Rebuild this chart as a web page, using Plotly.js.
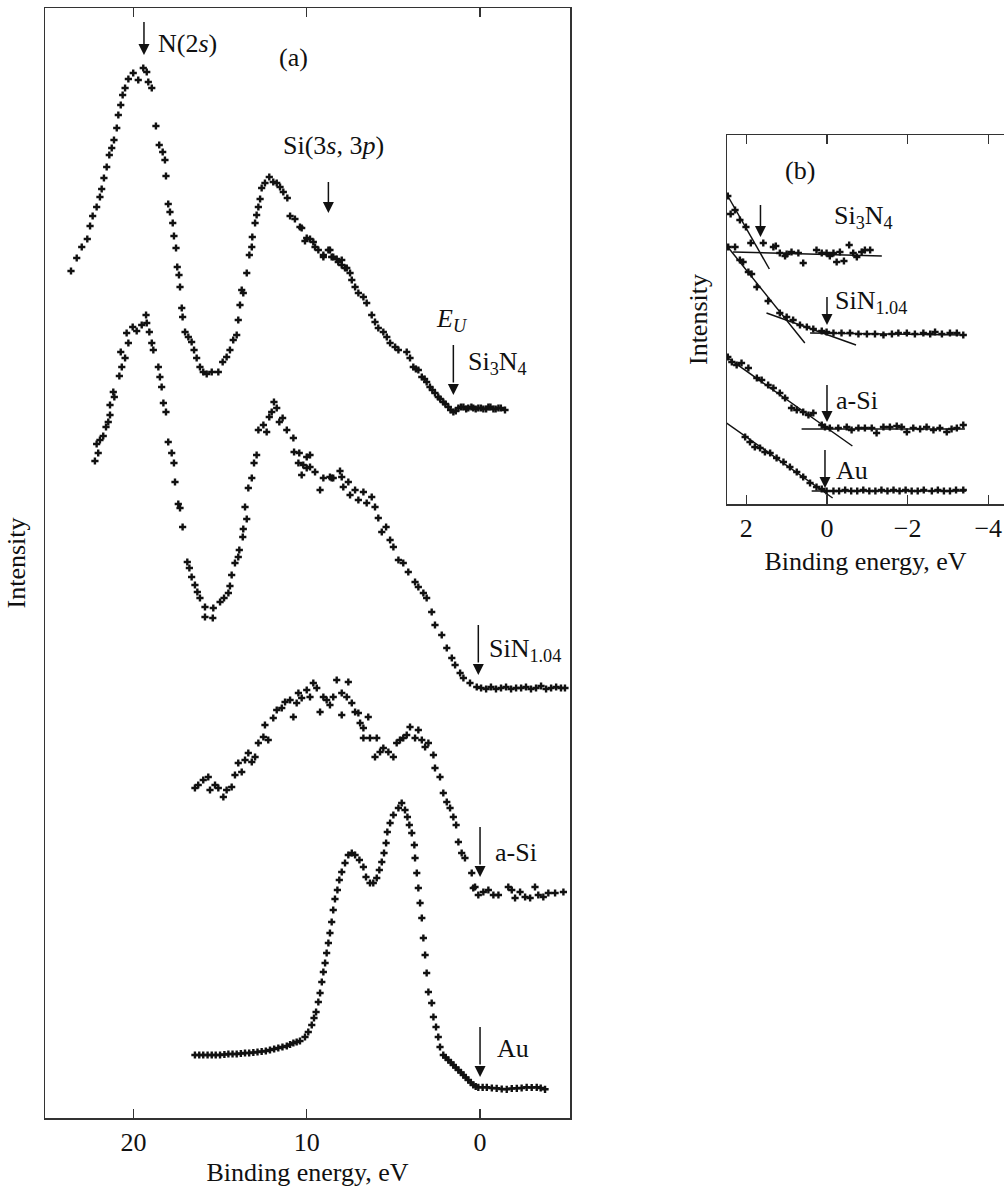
<!DOCTYPE html>
<html><head><meta charset="utf-8">
<script src="https://cdn.plot.ly/plotly-3.0.1.min.js"></script>
<style>html,body{margin:0;padding:0;background:#fff}#chart{width:1004px;height:1187px}</style>
</head><body><div id="chart"></div>
<script>
// ---------- Panel (a): binding energy (eV), intensity (arb. units) ----------
const si3n4A = [[23.60,84.7],[23.27,86.0],[22.98,87.1],[22.66,87.9],[22.50,89.2],[22.35,90.2],[22.12,91.1],[21.93,92.1],[21.83,92.9],[21.70,94.0],[21.54,95.1],[21.39,96.3],[21.25,97.0],[21.12,97.8],[20.96,99.0],[20.87,100.3],[20.73,101.3],[20.62,102.3],[20.48,103.0],[20.29,103.9],[20.01,104.5],[19.72,103.8],[19.43,105.0],[19.23,104.6],[19.14,103.6],[18.94,103.0],[18.70,99.2],[18.51,97.3],[18.31,96.6],[18.18,95.8],[18.12,94.2],[17.99,91.4],[17.89,90.6],[17.73,89.5],[17.66,88.2],[17.54,87.0],[17.47,85.1],[17.37,84.3],[17.31,83.1],[17.21,81.0],[17.16,80.1],[17.02,78.6],[16.83,78.1],[16.64,77.6],[16.50,76.8],[16.35,76.0],[16.16,75.1],[15.97,74.6],[15.77,74.4],[15.48,74.6],[15.10,74.6],[14.85,75.6],[14.62,76.1],[14.43,76.8],[14.24,77.8],[14.04,78.3],[13.95,79.8],[13.85,81.3],[13.75,82.8],[13.66,82.5],[13.46,84.5],[13.31,86.3],[13.17,87.1],[13.14,88.1],[12.98,89.5],[12.89,90.3],[12.79,91.1],[12.69,91.9],[12.60,93.0],[12.41,93.5],[12.16,94.1],[11.93,93.6],[11.73,93.5],[11.54,93.1],[11.35,92.6],[11.12,92.0],[10.96,90.2],[10.68,89.9],[10.39,89.1],[10.29,89.0],[10.10,87.7],[10.00,88.0],[9.81,87.9],[9.62,87.6],[9.52,87.1],[9.33,86.8],[9.04,86.3],[9.04,86.1],[8.75,86.8],[8.66,86.8],[8.56,86.1],[8.47,86.1],[8.27,85.9],[8.18,85.6],[7.98,85.8],[7.98,85.3],[7.79,85.0],[7.69,85.0],[7.50,84.5],[7.40,83.8],[7.21,83.1],[7.02,82.5],[6.73,82.1],[6.54,81.5],[6.25,80.3],[6.06,79.6],[5.87,79.0],[5.58,78.6],[5.38,78.1],[5.19,77.5],[4.90,77.1],[4.71,76.8],[4.23,76.6],[4.04,76.0],[3.85,75.1],[3.70,74.9],[3.56,74.8],[3.36,74.1],[3.20,73.9],[3.08,73.6],[2.89,73.1],[2.75,72.8],[2.60,72.5],[2.41,72.1],[2.30,71.9],[2.12,71.6],[2.00,71.4],[1.83,71.1],[1.70,70.8],[1.54,70.6],[1.40,70.7],[1.25,71.0],[1.10,71.1],[0.96,71.1],[0.80,70.9],[0.68,71.0],[0.50,71.1],[0.39,71.0],[0.25,70.9],[0.10,71.0],[-0.05,71.0],[-0.19,70.9],[-0.35,70.9],[-0.48,71.1],[-0.60,71.1],[-0.77,70.9],[-0.90,70.9],[-1.06,71.0],[-1.20,71.0],[-1.44,70.8]];
const sin104A = [[22.22,65.7],[22.12,67.4],[22.03,66.5],[21.93,67.8],[21.74,68.2],[21.58,69.1],[21.45,69.6],[21.35,70.3],[21.35,71.3],[21.16,72.6],[21.10,72.1],[20.81,74.2],[20.73,76.6],[20.67,75.1],[20.48,76.0],[20.39,78.5],[20.29,77.5],[20.04,79.1],[19.81,78.7],[19.52,79.3],[19.27,80.3],[19.23,79.5],[19.08,78.6],[18.94,77.5],[18.85,76.8],[18.56,75.1],[18.47,74.1],[18.37,73.1],[18.27,71.5],[18.12,70.6],[17.99,67.6],[17.79,66.5],[17.66,65.5],[17.60,63.6],[17.41,61.4],[17.31,61.0],[17.16,59.1],[16.89,55.6],[16.77,55.0],[16.64,54.1],[16.45,53.3],[16.31,52.6],[16.16,52.0],[15.87,51.1],[15.87,50.1],[15.42,50.0],[15.39,51.0],[15.00,51.6],[14.77,52.0],[14.52,52.5],[14.43,53.2],[14.33,54.3],[14.14,55.5],[13.95,56.1],[13.89,56.8],[13.69,58.1],[13.66,58.9],[13.56,61.1],[13.46,59.9],[13.37,63.0],[13.17,64.0],[13.04,65.5],[12.89,66.3],[12.79,68.8],[12.50,69.3],[12.31,68.6],[12.16,70.1],[12.02,70.6],[11.89,71.6],[11.73,71.0],[11.58,69.6],[11.39,70.0],[11.15,68.8],[10.77,68.0],[10.73,66.6],[10.48,65.5],[10.43,66.5],[10.29,64.3],[10.20,65.3],[10.00,66.1],[10.00,65.0],[9.81,65.1],[9.81,66.3],[9.52,64.6],[9.23,62.8],[9.04,64.0],[8.66,64.1],[8.56,64.0],[8.47,64.0],[8.08,64.7],[7.98,64.1],[7.89,63.1],[7.60,63.6],[7.50,62.3],[7.21,62.8],[7.02,61.8],[6.73,62.6],[6.54,61.5],[6.25,62.1],[6.06,61.1],[5.87,60.0],[5.67,58.6],[5.42,59.1],[5.19,57.8],[5.00,57.1],[4.71,55.8],[4.43,55.5],[4.14,54.6],[3.75,53.6],[3.56,53.1],[3.27,52.5],[3.08,52.0],[2.79,50.6],[2.60,49.3],[2.21,48.3],[1.92,47.0],[1.63,46.0],[1.44,45.3],[1.15,44.5],[0.96,44.0],[0.58,43.5],[0.19,43.1],[-0.06,43.0],[-0.35,42.9],[-0.63,43.1],[-0.92,42.9],[-1.21,43.0],[-1.50,43.1],[-1.79,42.9],[-2.08,43.0],[-2.37,43.0],[-2.65,43.1],[-2.94,42.9],[-3.23,43.0],[-3.52,43.2],[-3.81,42.9],[-4.10,43.0],[-4.39,43.1],[-4.67,43.0],[-4.90,43.0]];
const aSiA = [[16.45,33.0],[16.26,33.3],[15.97,33.8],[15.68,34.1],[15.58,32.8],[15.29,33.3],[15.10,33.0],[14.81,32.1],[14.62,32.8],[14.33,33.1],[14.14,34.3],[13.95,35.5],[13.75,34.6],[13.56,35.8],[13.37,36.5],[13.17,35.6],[12.98,36.1],[12.79,37.5],[12.50,38.1],[12.41,39.3],[12.22,37.8],[11.93,40.0],[11.73,40.8],[11.44,41.0],[11.25,41.6],[10.96,41.8],[10.77,40.1],[10.58,41.5],[10.48,42.5],[10.29,42.0],[10.00,42.8],[9.81,42.1],[9.62,43.5],[9.42,43.0],[9.23,40.6],[9.04,42.1],[8.85,41.8],[8.66,41.3],[8.47,42.1],[8.27,43.8],[7.98,42.5],[7.98,40.3],[7.69,42.1],[7.60,43.6],[7.40,41.5],[7.21,40.6],[7.02,40.5],[6.92,39.5],[6.73,39.0],[6.73,38.0],[6.45,40.1],[6.35,38.0],[6.06,36.1],[5.96,38.0],[5.77,36.6],[5.58,37.0],[5.29,36.6],[5.00,36.1],[4.81,37.5],[4.62,37.8],[4.43,38.0],[4.23,38.3],[4.04,39.1],[3.75,38.0],[3.56,38.8],[3.36,37.8],[3.17,37.1],[2.98,37.5],[2.69,36.3],[2.60,35.0],[2.31,34.1],[2.12,32.5],[1.92,31.6],[1.73,31.0],[1.54,30.1],[1.38,29.3],[1.25,27.6],[1.06,26.5],[0.87,26.0],[0.48,24.5],[0.39,23.0],[0.29,23.1],[0.10,22.3],[-0.19,22.6],[-0.48,22.8],[-0.77,22.3],[-1.06,22.3],[-1.63,23.1],[-1.83,22.8],[-2.02,22.0],[-2.31,22.6],[-2.60,22.1],[-2.89,22.0],[-3.17,23.1],[-3.36,22.3],[-3.65,22.1],[-3.94,22.5],[-4.33,22.5],[-4.81,22.6]];
const auA = [[16.45,6.3],[16.20,6.3],[15.97,6.3],[15.72,6.3],[15.48,6.3],[15.25,6.3],[15.00,6.3],[14.75,6.35],[14.52,6.4],[14.28,6.4],[14.04,6.4],[13.80,6.45],[13.56,6.5],[13.32,6.5],[13.08,6.55],[12.84,6.6],[12.60,6.65],[12.36,6.7],[12.12,6.8],[11.88,6.9],[11.64,7.0],[11.40,7.1],[11.15,7.2],[10.96,7.35],[10.77,7.5],[10.58,7.6],[10.39,7.7],[10.10,8.1],[9.91,8.6],[9.71,9.3],[9.58,10.0],[9.46,10.6],[9.33,11.6],[9.23,12.5],[9.13,13.6],[9.04,14.6],[8.94,15.5],[8.85,16.5],[8.75,17.5],[8.66,18.5],[8.56,19.6],[8.47,20.8],[8.37,21.9],[8.23,22.8],[8.12,23.8],[7.98,24.6],[7.79,25.5],[7.60,26.3],[7.40,26.5],[7.21,26.3],[6.96,25.8],[6.73,25.1],[6.58,24.1],[6.35,23.5],[6.16,23.5],[5.96,24.0],[5.81,24.8],[5.67,25.6],[5.54,26.5],[5.42,27.5],[5.35,28.6],[5.19,29.5],[5.00,30.3],[4.71,31.0],[4.52,31.5],[4.33,30.8],[4.19,30.1],[4.08,29.3],[3.94,28.5],[3.79,27.3],[3.75,26.0],[3.65,24.5],[3.56,23.0],[3.46,21.5],[3.36,20.0],[3.27,18.0],[3.17,16.3],[3.08,14.5],[2.98,12.6],[2.79,11.5],[2.69,10.1],[2.54,9.1],[2.41,8.1],[2.31,7.1],[2.12,6.3],[1.98,6.05],[1.83,5.8],[1.68,5.55],[1.54,5.3],[1.40,5.05],[1.25,4.8],[1.10,4.55],[0.96,4.3],[0.82,4.05],[0.68,3.8],[0.53,3.55],[0.39,3.3],[0.25,3.15],[0.10,3.07],[-0.15,3.07],[-0.39,3.07],[-0.68,3.0],[-0.96,2.97],[-1.25,2.9],[-1.54,2.87],[-1.83,2.95],[-2.12,2.97],[-2.40,3.0],[-2.69,3.07],[-2.98,3.05],[-3.27,3.07],[-3.50,3.0],[-3.75,2.87]];

// arrows (a): energy, tail intensity, tip intensity
const arrowsA = [[19.39,109.6,106.3],[8.75,93.6,90.5],[1.54,77.3,72.3],[0.10,49.3,44.3],[0.0,29.1,24.1],[0.0,9.1,4.1]];
// labels (a): text, energy, intensity, anchor
const labelsA = [["N(2<i>s</i>)",18.70,107.5,"left"],["(a)",10.79,106.1,"center"],["Si(3<i>s</i>, 3<i>p</i>)",8.48,97.3,"center"],["<i>E</i><sub><i>U</i></sub>",1.63,79.8,"center"],["Si<sub>3</sub>N<sub>4</sub>",0.83,75.5,"left"],["SiN<sub>1.04</sub>",-0.39,46.8,"left"],["a-Si",-0.77,26.6,"left"],["Au",-0.87,7.0,"left"]];

// ---------- Panel (b): near the valence band edge ----------
const si3n4B = [[2.46,30.8],[2.28,29.4],[2.39,29.0],[2.16,28.4],[2.01,27.7],[1.89,26.1],[1.58,26.1],[1.33,25.7],[1.27,25.8],[1.17,25.1],[1.04,24.8],[1.00,25.0],[0.88,25.2],[0.71,25.1],[0.59,24.1],[0.26,25.4],[0.13,25.1],[0.01,25.1],[-0.07,24.8],[-0.16,25.1],[-0.24,24.2],[-0.32,25.2],[-0.42,24.3],[-0.55,25.9],[-0.65,25.1],[-0.74,24.7],[-0.86,25.2],[-0.94,25.4],[-1.07,25.4]];
const sin104B = [[2.45,25.7],[2.28,25.7],[2.16,24.4],[2.08,24.2],[1.95,23.2],[1.87,23.0],[1.74,21.7],[1.46,20.3],[1.17,19.1],[1.00,18.7],[0.84,18.4],[0.67,17.9],[0.50,17.7],[0.34,17.5],[0.13,17.3],[0.01,17.2],[-0.16,17.1],[-0.36,17.1],[-0.57,17.1],[-0.78,17.0],[-0.99,17.0],[-1.19,17.0],[-1.40,16.9],[-1.61,17.0],[-1.77,17.1],[-1.98,17.1],[-2.18,17.0],[-2.39,17.1],[-2.56,17.0],[-2.68,17.2],[-2.85,17.0],[-3.05,17.1],[-3.22,17.1],[-3.38,16.9]];
const aSiB = [[2.46,14.7],[2.36,14.2],[2.24,13.9],[2.12,14.1],[1.95,13.6],[1.74,12.6],[1.62,12.4],[1.46,11.9],[1.33,11.6],[1.17,11.1],[1.04,10.6],[0.88,9.6],[0.75,9.4],[0.59,9.2],[0.46,8.9],[0.34,9.1],[0.13,7.9],[0.05,7.7],[-0.07,7.6],[-0.28,7.6],[-0.49,7.7],[-0.61,7.4],[-0.78,7.6],[-0.94,7.6],[-1.11,7.6],[-1.23,7.1],[-1.40,7.7],[-1.56,7.7],[-1.73,7.8],[-1.85,7.7],[-1.98,7.2],[-2.14,7.6],[-2.31,7.5],[-2.47,7.7],[-2.64,7.4],[-2.80,7.6],[-2.97,7.2],[-3.09,7.5],[-3.22,7.6],[-3.38,7.9]];
const auB = [[2.03,6.7],[1.91,6.2],[1.79,5.7],[1.66,5.6],[1.54,5.2],[1.41,5.1],[1.25,4.6],[1.08,4.2],[0.92,3.7],[0.75,3.2],[0.59,2.7],[0.42,2.1],[0.26,1.7],[0.13,1.5],[0.01,1.3],[-0.16,1.3],[-0.30,1.3],[-0.45,1.4],[-0.60,1.3],[-0.75,1.3],[-0.90,1.4],[-1.05,1.3],[-1.20,1.3],[-1.35,1.4],[-1.50,1.3],[-1.65,1.4],[-1.80,1.3],[-1.95,1.4],[-2.10,1.3],[-2.25,1.3],[-2.40,1.4],[-2.60,1.3],[-2.75,1.4],[-2.90,1.3],[-3.05,1.3],[-3.20,1.4],[-3.38,1.4]];
// straight-line fits (b): [x1,y1,x2,y2]
const fitsB = [[2.46,30.8,1.43,23.5],[2.33,25.2,-1.36,24.8],[2.46,25.7,0.55,16.1],[1.50,19.1,-0.72,15.9],[0.42,17.1,-3.42,16.9],[2.49,14.7,-0.63,5.8],[0.63,7.5,-3.42,7.5],[2.49,8.1,-0.14,0.6],[0.38,1.3,-3.45,1.3]];
const arrowsB = [[1.65,29.9,26.7],[0.0,20.7,17.9],[0.0,11.9,8.2],[0.05,5.4,1.6]];
const labelsB = [["(b)",0.67,33.4,"center"],["Si<sub>3</sub>N<sub>4</sub>",-0.90,28.7,"center"],["SiN<sub>1.04</sub>",-0.16,20.2,"left"],["a-Si",-0.17,10.4,"left"],["Au",-0.17,3.4,"left"]];

const FONT = "'Liberation Serif', 'Times New Roman', Times, serif";
const FS = 26;
const INK = "#111";
function pts(data, xa, ya) {
  return {type:"scatter", mode:"markers", x:data.map(p=>p[0]), y:data.map(p=>p[1]),
    xaxis:xa, yaxis:ya, marker:{symbol:"cross", size:6, color:INK, line:{width:0}},
    hoverinfo:"skip", showlegend:false};
}
const traces = [pts(si3n4A,"x","y"), pts(sin104A,"x","y"), pts(aSiA,"x","y"), pts(auA,"x","y"),
  pts(si3n4B,"x2","y2"), pts(sin104B,"x2","y2"), pts(aSiB,"x2","y2"), pts(auB,"x2","y2")];
fitsB.forEach(f => traces.push({type:"scatter", mode:"lines", x:[f[0],f[2]], y:[f[1],f[3]],
  xaxis:"x2", yaxis:"y2", line:{color:INK, width:1.5}, hoverinfo:"skip", showlegend:false}));

// arrows: shaft as a line trace, head as an arrow-down marker at the tip
function arrows(list, xa, ya) {
  const sx = [], sy = [];
  list.forEach(a => { sx.push(a[0], a[0], null); sy.push(a[1], a[2] + (a[1]-a[2])*0.25, null); });
  traces.push({type:"scatter", mode:"lines", x:sx, y:sy, xaxis:xa, yaxis:ya,
    line:{color:INK, width:1.5}, hoverinfo:"skip", showlegend:false, connectgaps:false});
  traces.push({type:"scatter", mode:"markers", x:list.map(a=>a[0]), y:list.map(a=>a[2]), xaxis:xa, yaxis:ya,
    marker:{symbol:"arrow-down", size:11, color:INK, line:{width:0}}, hoverinfo:"skip", showlegend:false});
}
arrows(arrowsA,"x","y"); arrows(arrowsB,"x2","y2");

const annotations = [];
function addLabels(list, xr, yr) {
  list.forEach(l => annotations.push({x:l[1], y:l[2], xref:xr, yref:yr, text:l[0], showarrow:false,
    xanchor:l[3], yanchor:"middle", font:{family:FONT, size:FS, color:INK}}));
}
addLabels(labelsA,"x","y"); addLabels(labelsB,"x2","y2");

const axLine = {showline:true, linecolor:"#333", linewidth:1.5, showgrid:false, zeroline:false};
const tf = {family:FONT, size:FS, color:INK};
const layout = {
  width:1004, height:1187, margin:{l:0,r:0,t:0,b:0}, paper_bgcolor:"#fff", plot_bgcolor:"#fff",
  font:tf, showlegend:false,
  xaxis:Object.assign({}, axLine, {domain:[45/1004, 570/1004], range:[25.10,-5.19], tickvals:[20,10,0],
    ticks:"inside", ticklen:9, tickwidth:1.5, tickcolor:"#333", mirror:"allticks", anchor:"y",
    tickfont:tf, title:{text:"Binding energy, eV", font:tf, standoff:12}}),
  yaxis:Object.assign({}, axLine, {domain:[69/1187, 1179/1187], range:[0,111], showticklabels:false, ticks:"",
    mirror:true, anchor:"x", title:{text:"Intensity", font:tf, standoff:10}}),
  xaxis2:Object.assign({}, axLine, {domain:[727/1004, 1], range:[2.48,-4.39], tickvals:[2,0,-2,-4],
    ticks:"inside", ticklen:9, tickwidth:1.5, tickcolor:"#333", mirror:"allticks", anchor:"y2",
    tickfont:tf, title:{text:"Binding energy, eV", font:tf, standoff:10}}),
  yaxis2:Object.assign({}, axLine, {domain:[683/1187, 1052/1187], range:[0,36.9], showticklabels:false, ticks:"",
    mirror:false, anchor:"x2", title:{text:"Intensity", font:tf, standoff:10}}),
  annotations:annotations
};
Plotly.newPlot("chart", traces, layout, {staticPlot:true, displayModeBar:false});
</script></body></html>
